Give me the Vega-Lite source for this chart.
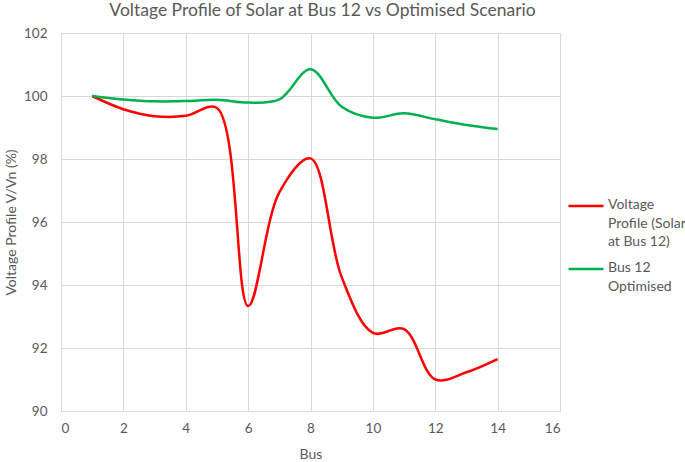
{
  "$schema": "https://vega.github.io/schema/vega-lite/v6.json",
  "autosize": "none",
  "width": 499,
  "height": 378,
  "padding": {"left": 61, "top": 33, "right": 125, "bottom": 51},
  "background": "white",
  "config": {
    "font": "Lato",
    "view": {"stroke": "#d9d9d9", "strokeWidth": 1}
  },
  "title": {
    "text": "Voltage Profile of Solar at Bus 12 vs Optimised Scenario",
    "fontSize": 17.5,
    "fontWeight": "normal",
    "color": "#595959",
    "font": "Lato",
    "anchor": "middle",
    "dx": 12,
    "dy": 13,
    "baseline": "alphabetic",
    "offset": 6
  },
  "data": {
    "values": [
      {"bus": 1, "v": 100.0, "series": "Voltage Profile (Solar at Bus 12)"},
      {"bus": 2, "v": 99.58, "series": "Voltage Profile (Solar at Bus 12)"},
      {"bus": 3, "v": 99.36, "series": "Voltage Profile (Solar at Bus 12)"},
      {"bus": 4, "v": 99.37, "series": "Voltage Profile (Solar at Bus 12)"},
      {"bus": 5, "v": 99.62, "series": "Voltage Profile (Solar at Bus 12)"},
      {"bus": 6, "v": 93.33, "series": "Voltage Profile (Solar at Bus 12)"},
      {"bus": 7, "v": 96.94, "series": "Voltage Profile (Solar at Bus 12)"},
      {"bus": 8, "v": 98.02, "series": "Voltage Profile (Solar at Bus 12)"},
      {"bus": 9, "v": 94.25, "series": "Voltage Profile (Solar at Bus 12)"},
      {"bus": 10, "v": 92.48, "series": "Voltage Profile (Solar at Bus 12)"},
      {"bus": 11, "v": 92.6, "series": "Voltage Profile (Solar at Bus 12)"},
      {"bus": 12, "v": 91.0, "series": "Voltage Profile (Solar at Bus 12)"},
      {"bus": 13, "v": 91.23, "series": "Voltage Profile (Solar at Bus 12)"},
      {"bus": 14, "v": 91.65, "series": "Voltage Profile (Solar at Bus 12)"},
      {"bus": 1, "v": 100.0, "series": "Bus 12 Optimised"},
      {"bus": 2, "v": 99.89, "series": "Bus 12 Optimised"},
      {"bus": 3, "v": 99.83, "series": "Bus 12 Optimised"},
      {"bus": 4, "v": 99.84, "series": "Bus 12 Optimised"},
      {"bus": 5, "v": 99.88, "series": "Bus 12 Optimised"},
      {"bus": 6, "v": 99.79, "series": "Bus 12 Optimised"},
      {"bus": 7, "v": 99.89, "series": "Bus 12 Optimised"},
      {"bus": 8, "v": 100.85, "series": "Bus 12 Optimised"},
      {"bus": 9, "v": 99.66, "series": "Bus 12 Optimised"},
      {"bus": 10, "v": 99.31, "series": "Bus 12 Optimised"},
      {"bus": 11, "v": 99.45, "series": "Bus 12 Optimised"},
      {"bus": 12, "v": 99.26, "series": "Bus 12 Optimised"},
      {"bus": 13, "v": 99.08, "series": "Bus 12 Optimised"},
      {"bus": 14, "v": 98.95, "series": "Bus 12 Optimised"}
    ]
  },
  "mark": {"type": "line", "interpolate": "catmull-rom", "strokeWidth": 2.5},
  "encoding": {
    "x": {
      "field": "bus",
      "type": "quantitative",
      "scale": {"domain": [0, 16], "nice": false},
      "axis": {
        "values": [0, 2, 4, 6, 8, 10, 12, 14, 16],
        "title": "Bus",
        "titleFont": "Lato",
        "titleFontSize": 14,
        "titleFontWeight": "normal",
        "titleColor": "#595959",
        "titlePadding": 13,
        "labelFont": "Lato",
        "labelFontSize": 13.5,
        "labelColor": "#595959",
        "labelPadding": 10,
        "ticks": false,
        "domain": false,
        "grid": true,
        "gridColor": "#d9d9d9"
      }
    },
    "y": {
      "field": "v",
      "type": "quantitative",
      "scale": {"domain": [90, 102], "nice": false, "zero": false},
      "axis": {
        "values": [90, 92, 94, 96, 98, 100, 102],
        "title": "Voltage Profile V/Vn (%)",
        "titleFont": "Lato",
        "titleFontSize": 14,
        "titleFontWeight": "normal",
        "titleColor": "#595959",
        "titlePadding": 5,
        "labelFont": "Lato",
        "labelFontSize": 13.5,
        "labelColor": "#595959",
        "labelPadding": 14,
        "ticks": false,
        "domain": false,
        "grid": true,
        "gridColor": "#d9d9d9"
      }
    },
    "color": {
      "field": "series",
      "type": "nominal",
      "scale": {
        "domain": ["Voltage Profile (Solar at Bus 12)", "Bus 12 Optimised"],
        "range": ["#ff0000", "#00b050"]
      },
      "legend": {
        "title": null,
        "orient": "none",
        "legendX": 506,
        "legendY": 154,
        "symbolType": "stroke",
        "symbolSize": 1225,
        "symbolStrokeWidth": 2.5,
        "labelFont": "Lato",
        "labelFontSize": 14,
        "labelColor": "#595959",
        "labelBaseline": "top",
        "labelOffset": 3,
        "rowPadding": 0,
        "labelExpr": "datum.label == 'Bus 12 Optimised' ? ['Bus 12', 'Optimised'] : ['Voltage', 'Profile (Solar', 'at Bus 12)']",
        "encode": {
          "labels": {
            "update": {
              "lineHeight": {"value": 18.7},
              "dy": {"value": -8}
            }
          }
        }
      }
    }
  }
}
